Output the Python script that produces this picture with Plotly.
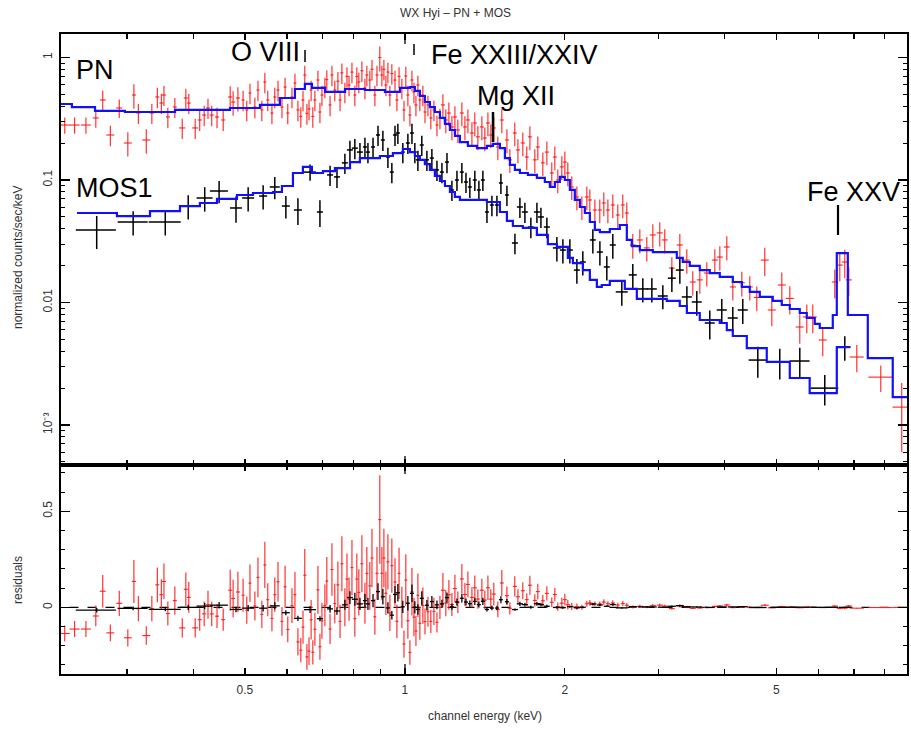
import numpy as np
import plotly.graph_objects as go

# ---------------- data ----------------
pn_energy = [
    0.229, 0.239, 0.251, 0.262, 0.270, 0.279, 0.290, 0.301, 0.309, 0.315,
    0.326, 0.334, 0.342, 0.348, 0.352, 0.358, 0.369, 0.381, 0.387, 0.392,
    0.403, 0.411, 0.419, 0.426, 0.433, 0.443, 0.455, 0.469, 0.475, 0.485,
    0.496, 0.504, 0.511, 0.522, 0.529, 0.538, 0.545, 0.552, 0.562, 0.569,
    0.577, 0.587, 0.595, 0.602, 0.613, 0.621, 0.629, 0.637, 0.643, 0.648,
    0.654, 0.660, 0.666, 0.671, 0.677, 0.686, 0.692, 0.698, 0.707, 0.713,
    0.723, 0.729, 0.738, 0.748, 0.755, 0.761, 0.771, 0.778, 0.785, 0.795,
    0.805, 0.812, 0.819, 0.830, 0.841, 0.848, 0.859, 0.867, 0.878, 0.886,
    0.897, 0.905, 0.913, 0.921, 0.929, 0.937, 0.945, 0.958, 0.966, 0.975,
    0.987, 0.996, 1.004, 1.013, 1.022, 1.031, 1.040, 1.049, 1.058, 1.067,
    1.081, 1.091, 1.105, 1.119, 1.134, 1.149, 1.164,
    1.179, 1.194, 1.210, 1.226, 1.242, 1.258, 1.280, 1.297, 1.314, 1.337,
    1.354, 1.372, 1.396, 1.414, 1.433, 1.451, 1.470, 1.496, 1.522, 1.556,
    1.576, 1.610, 1.632, 1.667, 1.696, 1.719, 1.756, 1.779, 1.818, 1.850,
    1.890, 1.915, 1.940, 1.974, 2.000, 2.026, 2.061, 2.107, 2.153, 2.200,
    2.229, 2.278, 2.327, 2.368, 2.410, 2.462, 2.516, 2.571, 2.616,
    2.685, 2.768, 2.853, 2.928, 3.018, 3.084, 3.180, 3.292, 3.393, 3.482,
    3.590, 3.700, 3.831, 3.915, 4.035, 4.142, 4.306, 4.458, 4.595, 4.757,
    4.904, 5.121, 5.302, 5.536, 5.707, 5.857, 6.116, 6.443, 6.584, 6.728,
    6.846, 7.088, 7.864, 8.612]

pn_halfwidth = [
    0.0050, 0.0052, 0.0054, 0.0034, 0.0035, 0.0048, 0.0038, 0.0052, 0.0027, 0.0027,
    0.0057, 0.0029, 0.0030, 0.0030, 0.0031, 0.0031, 0.0032, 0.0050, 0.0034, 0.0034,
    0.0052, 0.0036, 0.0036, 0.0037, 0.0038, 0.0038, 0.0039, 0.0041, 0.0041, 0.0042,
    0.0032, 0.0033, 0.0033, 0.0034, 0.0034, 0.0035, 0.0035, 0.0036, 0.0037, 0.0037,
    0.0038, 0.0038, 0.0039, 0.0039, 0.0040, 0.0040, 0.0041, 0.0041, 0.0042, 0.0042,
    0.0043, 0.0043, 0.0043, 0.0044, 0.0044, 0.0045, 0.0045, 0.0045, 0.0046, 0.0046,
    0.0047, 0.0047, 0.0048, 0.0049, 0.0049, 0.0049, 0.0050, 0.0051, 0.0051, 0.0052,
    0.0052, 0.0053, 0.0053, 0.0054, 0.0055, 0.0055, 0.0056, 0.0056, 0.0057, 0.0058,
    0.0058, 0.0059, 0.0059, 0.0060, 0.0060, 0.0061, 0.0061, 0.0062, 0.0063, 0.0063,
    0.0064, 0.0065, 0.0065, 0.0066, 0.0066, 0.0067, 0.0068, 0.0068, 0.0069, 0.0069,
    0.0070, 0.0071, 0.0072, 0.0073, 0.0074, 0.0075, 0.0076,
    0.0102, 0.0104, 0.0105, 0.0106, 0.0108, 0.0109, 0.0111, 0.0113, 0.0114, 0.0116,
    0.0118, 0.0119, 0.0121, 0.0123, 0.0124, 0.0126, 0.0128, 0.0130, 0.0132, 0.0135,
    0.0137, 0.0140, 0.0142, 0.0145, 0.0147, 0.0149, 0.0152, 0.0154, 0.0158, 0.0161,
    0.0164, 0.0166, 0.0168, 0.0171, 0.0174, 0.0176, 0.0179, 0.0183, 0.0187, 0.0191,
    0.0193, 0.0198, 0.0202, 0.0206, 0.0209, 0.0214, 0.0218, 0.0223, 0.0227,
    0.035, 0.036, 0.037, 0.038, 0.039, 0.040, 0.041, 0.043, 0.044, 0.045,
    0.047, 0.048, 0.050, 0.051, 0.052, 0.054, 0.056, 0.058, 0.060, 0.083,
    0.085, 0.089, 0.092, 0.096, 0.099, 0.102, 0.106, 0.084, 0.086, 0.088,
    0.089, 0.215, 0.410, 0.337]

pn_rate = [
    0.281, 0.281, 0.281, 0.321, 0.450, 0.233, 0.387, 0.2005, 0.494, 0.352,
    0.212, 0.352, 0.476, 0.425, 0.494, 0.327, 0.394, 0.266, 0.467, 0.425,
    0.266, 0.309, 0.339, 0.387, 0.339, 0.327, 0.309, 0.476, 0.433, 0.467,
    0.450, 0.373, 0.513, 0.394, 0.543, 0.373, 0.631, 0.450, 0.352, 0.476,
    0.543, 0.394, 0.574, 0.352, 0.476, 0.619, 0.373, 0.330, 0.450, 0.720,
    0.350, 0.380, 0.543, 0.330, 0.450, 0.655, 0.359, 0.494, 0.574, 0.660,
    0.410, 0.720, 0.543, 0.640, 0.450, 0.750, 0.523, 0.700, 0.596, 0.760,
    0.494, 0.700, 0.631, 0.780, 0.564, 0.720, 0.655, 0.800, 0.494, 0.720,
    1.000, 0.720, 0.800, 0.596, 0.760, 0.494, 0.740, 0.655, 0.450, 0.700,
    0.564, 0.373, 0.706, 0.494, 0.339, 0.655, 0.523, 0.410, 0.596, 0.450,
    0.494, 0.359, 0.410, 0.321, 0.373, 0.281, 0.321,
    0.410, 0.309, 0.352, 0.271, 0.327, 0.256, 0.352, 0.271, 0.309, 0.242,
    0.292, 0.225, 0.271, 0.220, 0.292, 0.233, 0.266, 0.186, 0.309, 0.212,
    0.146, 0.242, 0.176, 0.2005, 0.154, 0.225, 0.146, 0.186, 0.138, 0.169,
    0.114, 0.154, 0.100, 0.128, 0.140, 0.114, 0.0877, 0.0727, 0.0602, 0.0727,
    0.0687, 0.0569, 0.0569, 0.0649, 0.0569, 0.0625, 0.0518, 0.0625, 0.0538,
    0.0295, 0.0324, 0.0279, 0.0356, 0.0370, 0.0324, 0.0191, 0.0295, 0.0222, 0.0147,
    0.0153, 0.0174, 0.0222, 0.0235, 0.0284, 0.0134, 0.0145, 0.0134, 0.0110, 0.0222,
    0.00869, 0.0139, 0.0108, 0.00631, 0.00762, 0.00762, 0.00494, 0.0147, 0.0202, 0.0214,
    0.0153, 0.00359, 0.00246, 0.00140]

pn_error = [
    0.042, 0.042, 0.042, 0.054, 0.085, 0.044, 0.066, 0.045, 0.112, 0.066,
    0.048, 0.066, 0.090, 0.080, 0.093, 0.062, 0.074, 0.050, 0.088, 0.080,
    0.050, 0.058, 0.064, 0.073, 0.064, 0.062, 0.058, 0.107, 0.098, 0.105,
    0.086, 0.071, 0.097, 0.075, 0.103, 0.071, 0.120, 0.086, 0.067, 0.090,
    0.103, 0.075, 0.109, 0.067, 0.090, 0.118, 0.071, 0.063, 0.086, 0.137,
    0.067, 0.072, 0.103, 0.063, 0.086, 0.124, 0.068, 0.094, 0.109, 0.125,
    0.078, 0.137, 0.103, 0.122, 0.086, 0.143, 0.099, 0.133, 0.113, 0.144,
    0.094, 0.133, 0.120, 0.148, 0.107, 0.137, 0.124, 0.152, 0.094, 0.137,
    0.230, 0.137, 0.152, 0.113, 0.144, 0.094, 0.141, 0.124, 0.086, 0.133,
    0.107, 0.071, 0.134, 0.094, 0.064, 0.124, 0.099, 0.078, 0.113, 0.086,
    0.094, 0.068, 0.078, 0.061, 0.071, 0.053, 0.061,
    0.090, 0.068, 0.077, 0.060, 0.072, 0.056, 0.077, 0.060, 0.068, 0.053,
    0.064, 0.050, 0.060, 0.048, 0.064, 0.051, 0.059, 0.041, 0.068, 0.047,
    0.032, 0.053, 0.039, 0.044, 0.034, 0.050, 0.032, 0.041, 0.030, 0.037,
    0.025, 0.034, 0.022, 0.028, 0.031, 0.025, 0.019, 0.016, 0.013, 0.016,
    0.015, 0.0125, 0.0125, 0.0143, 0.0125, 0.0138, 0.0114, 0.0138, 0.0118,
    0.0067, 0.0073, 0.0063, 0.0080, 0.0083, 0.0073, 0.0043, 0.0067, 0.0050, 0.0033,
    0.0035, 0.0039, 0.0050, 0.0053, 0.0064, 0.0030, 0.0033, 0.0030, 0.0025, 0.0058,
    0.0023, 0.0037, 0.0028, 0.0017, 0.0020, 0.0020, 0.0013, 0.0039, 0.0053, 0.0056,
    0.0040, 0.0009, 0.0006, 0.0008]

mos_energy = [
    0.263, 0.308, 0.354, 0.391, 0.420, 0.447, 0.481, 0.507, 0.541, 0.569,
    0.597, 0.629, 0.663, 0.692, 0.723, 0.745, 0.771, 0.788, 0.805, 0.823,
    0.841, 0.852, 0.871, 0.890, 0.909, 0.929, 0.945, 0.958, 0.970, 0.991,
    1.013, 1.031, 1.044, 1.058, 1.076, 1.100, 1.124, 1.149, 1.174, 1.200,
    1.226, 1.253, 1.280, 1.303, 1.325, 1.354, 1.378, 1.402, 1.427, 1.458,
    1.490, 1.516, 1.556, 1.611, 1.646, 1.682, 1.726, 1.772, 1.803, 1.850,
    1.932, 1.983, 2.044, 2.107, 2.162, 2.258, 2.328, 2.399, 2.462, 2.560,
    2.685, 2.804, 2.916, 3.058, 3.180, 3.292, 3.394, 3.543, 3.748, 3.948,
    4.141, 4.324, 4.615, 5.076, 5.536, 6.169, 6.728]

mos_halfwidth = [
    0.0228, 0.0200, 0.0245, 0.0136, 0.0146, 0.0174, 0.0125, 0.0132, 0.0094, 0.0123,
    0.0103, 0.0109, 0.0172, 0.0090, 0.0094, 0.0097, 0.0100, 0.0102, 0.0105, 0.0107,
    0.0073, 0.0074, 0.0075, 0.0077, 0.0079, 0.0080, 0.0082, 0.0083, 0.0084, 0.0086,
    0.0088, 0.0089, 0.0090, 0.0092, 0.0093, 0.0095, 0.0097, 0.0100, 0.0102, 0.0104,
    0.0106, 0.0109, 0.0111, 0.0113, 0.0115, 0.0117, 0.0119, 0.0121, 0.0124, 0.0126,
    0.0129, 0.0131, 0.0135, 0.0209, 0.0214, 0.0219, 0.0224, 0.0230, 0.0234, 0.0240,
    0.0335, 0.0258, 0.0266, 0.0274, 0.0281, 0.0293, 0.0303, 0.0312, 0.0320, 0.0665,
    0.0465, 0.0607, 0.0632, 0.0662, 0.0551, 0.0570, 0.0735, 0.0767, 0.0812, 0.0855,
    0.0897, 0.0937, 0.180, 0.220, 0.240, 0.374, 0.175]

mos_rate = [
    0.0391, 0.0454, 0.0454, 0.0613, 0.0713, 0.0813, 0.0591, 0.0713, 0.0740, 0.0877,
    0.0613, 0.0569, 0.116, 0.0548, 0.110, 0.106, 0.138, 0.176, 0.182, 0.169,
    0.186, 0.169, 0.186, 0.233, 0.212, 0.154, 0.116, 0.233, 0.242, 0.169,
    0.2005, 0.242, 0.169, 0.146, 0.193, 0.146, 0.151, 0.121, 0.116, 0.140,
    0.0829, 0.100, 0.116, 0.0963, 0.0877, 0.100, 0.0829, 0.100, 0.0548, 0.0625,
    0.0625, 0.0945, 0.0754, 0.0306, 0.0602, 0.0548, 0.0413, 0.0548, 0.0499, 0.0413,
    0.0279, 0.0268, 0.0268, 0.0184, 0.0214, 0.0324, 0.0258, 0.0195, 0.0295, 0.0122,
    0.0168, 0.0129, 0.0129, 0.0113, 0.0158, 0.0184, 0.0111, 0.0101, 0.0068, 0.00869,
    0.00747, 0.00869, 0.00339, 0.00327, 0.00333, 0.00200, 0.00433]

mos_error = [
    0.0118, 0.0102, 0.0102, 0.0138, 0.0161, 0.0168, 0.0144, 0.0161, 0.0167, 0.0182,
    0.0127, 0.0139, 0.0175, 0.0134, 0.0207, 0.0199, 0.0259, 0.0331, 0.0342, 0.0318,
    0.0350, 0.0318, 0.0350, 0.0438, 0.0399, 0.0290, 0.0218, 0.0438, 0.0455, 0.0318,
    0.0377, 0.0455, 0.0318, 0.0274, 0.0363, 0.0274, 0.0284, 0.0227, 0.0218, 0.0263,
    0.0156, 0.0188, 0.0218, 0.0181, 0.0165, 0.0188, 0.0156, 0.0188, 0.0103, 0.0118,
    0.0118, 0.0178, 0.0142, 0.0058, 0.0113, 0.0103, 0.0078, 0.0103, 0.0094, 0.0078,
    0.0063, 0.0060, 0.0060, 0.0042, 0.0048, 0.0073, 0.0058, 0.0044, 0.0067, 0.0028,
    0.0038, 0.0029, 0.0029, 0.0025, 0.0036, 0.0042, 0.0025, 0.0023, 0.0018, 0.0020,
    0.0017, 0.0020, 0.00096, 0.00092, 0.00094, 0.00056, 0.00098]

pn_model_edges = [
    0.2253, 0.2362, 0.2611, 0.2972, 0.3693, 0.4113, 0.4686, 0.5335, 0.5817, 0.6209,
    0.6483, 0.6683, 0.7072, 0.7713, 0.8409, 0.9171, 0.9786, 1.0219, 1.0443, 1.0671,
    1.0904, 1.1144, 1.1387, 1.1639, 1.1894, 1.2154, 1.2420, 1.2691, 1.3137, 1.3665,
    1.4268, 1.4644, 1.5095, 1.5425, 1.5763, 1.6106, 1.6460, 1.7038, 1.7717, 1.8340,
    1.8742, 1.9152, 1.9571, 1.9999, 2.0437, 2.0884, 2.1344, 2.1812, 2.2290, 2.2778,
    2.3277, 2.4305, 2.5379, 2.6163, 2.6735, 2.7676, 2.9287, 3.0846, 3.2488, 3.3343,
    3.4370, 3.5892, 3.7482, 3.9141, 4.1410, 4.3061, 4.4575, 4.6548, 4.9246, 5.1203,
    5.3012, 5.5359, 5.7055, 5.9072, 6.0366, 6.3872, 6.4988, 6.8170, 7.4336, 8.2819,
    8.9536]
pn_model_rate = [
    0.417, 0.394, 0.366, 0.359, 0.373, 0.373, 0.387, 0.410, 0.467, 0.553,
    0.608, 0.564, 0.523, 0.553, 0.543, 0.523, 0.564, 0.574, 0.533, 0.485,
    0.433, 0.394, 0.359, 0.321, 0.287, 0.256, 0.229, 0.204, 0.190, 0.182,
    0.190, 0.197, 0.182, 0.151, 0.133, 0.121, 0.114, 0.110, 0.104, 0.0963,
    0.0877, 0.0963, 0.106, 0.100, 0.0829, 0.0687, 0.0602, 0.0538, 0.0454, 0.0391,
    0.0376, 0.0398, 0.0429, 0.0324, 0.0289, 0.0268, 0.0258, 0.0258, 0.0231, 0.0214,
    0.0199, 0.0184, 0.0174, 0.0162, 0.0147, 0.0134, 0.0122, 0.0111, 0.0103, 0.00954,
    0.00885, 0.00821, 0.00747, 0.00668, 0.00619, 0.00791, 0.0253, 0.00791, 0.00352, 0.00169]

mos_model_edges = [
    0.2415, 0.2871, 0.3313, 0.3773, 0.4113, 0.4429, 0.4830, 0.5176, 0.5645, 0.5869,
    0.6156, 0.6427, 0.6683, 0.7011, 0.7384, 0.7883, 0.8228, 0.8973, 0.9493, 0.9914,
    1.0219, 1.0443, 1.0671, 1.0904, 1.1144, 1.1387, 1.1639, 1.1894, 1.2154, 1.2420,
    1.2691, 1.4268, 1.5095, 1.5559, 1.5967, 1.6673, 1.7717, 1.8578, 1.9320, 2.0264,
    2.0707, 2.1623, 2.2290, 2.2975, 2.3475, 2.4305, 2.5935, 2.7322, 3.1111, 3.2910,
    3.3938, 3.5892, 3.9141, 4.0350, 4.1410, 4.4000, 4.7980, 5.3012, 5.7786, 6.4988,
    6.8756]
mos_model_rate = [
    0.0538, 0.0508, 0.0558, 0.0613, 0.0649, 0.0700, 0.0754, 0.0783, 0.0798, 0.0893,
    0.114, 0.128, 0.114, 0.118, 0.125, 0.140, 0.151, 0.157, 0.166, 0.179,
    0.169, 0.157, 0.146, 0.135, 0.121, 0.108, 0.0981, 0.0893, 0.0798, 0.0727,
    0.0687, 0.0661, 0.0548, 0.0463, 0.0421, 0.0406, 0.0356, 0.0300, 0.0284, 0.0231,
    0.0210, 0.0184, 0.0153, 0.0134, 0.0139, 0.0150, 0.0129, 0.0107, 0.0103, 0.00936,
    0.00821, 0.00720, 0.00680, 0.00596, 0.00533, 0.00425, 0.00327, 0.00242, 0.00182, 0.00433]

x_tick_values = [0.5, 1, 2, 5]
x_tick_labels = ["0.5", "1", "2", "5"]
x_minor_values = [0.3, 0.4, 0.6, 0.7, 0.8, 0.9, 3, 4, 6, 7, 8]
y_tick_values = [0.001, 0.01, 0.1, 1]
y_tick_labels = ["10\u207b\u00b3", "0.01", "0.1", "1"]
res_tick_values = [0, 0.5]
res_tick_labels = ["0", "0.5"]

line_labels = ["O VIII", "Fe XXIII/XXIV", "Mg XII", "Fe XXV"]

# ---------------- geometry ----------------
W, H = 911, 731
ML, MR, MT, MB = 61, 4, 34, 57
PW, PH = W - ML - MR, H - MT - MB
SPLIT = 465
lower_top = (H - MB - SPLIT) / PH


def px(x):
    return (x - ML) / PW


def py(y):
    return (H - MB - y) / PH


def model_at(edges, vals, e):
    e = np.asarray(e)
    idx = np.clip(np.searchsorted(edges, e, side="right") - 1, 0, len(vals) - 1)
    return np.asarray(vals)[idx]


pn_resid = np.asarray(pn_rate) - model_at(pn_model_edges, pn_model_rate, pn_energy)
mos_resid = np.asarray(mos_rate) - model_at(mos_model_edges, mos_model_rate, mos_energy)

RED = "#ff2020"
BLUE = "#1010ff"
FONT = "Liberation Sans, Arial, sans-serif"

fig = go.Figure()


def data_trace(x, y, dx, dy, color, thick, xa, ya):
    return go.Scatter(
        x=x, y=y, mode="markers",
        marker=dict(size=1, color=color),
        error_x=dict(type="data", array=dx, color=color, thickness=thick, width=0),
        error_y=dict(type="data", array=dy, color=color, thickness=thick, width=0),
        xaxis=xa, yaxis=ya, showlegend=False, hoverinfo="skip")


# upper panel
fig.add_trace(data_trace(pn_energy, pn_rate, pn_halfwidth, pn_error, RED, 1.1, "x", "y"))
fig.add_trace(data_trace(mos_energy, mos_rate, mos_halfwidth, mos_error, "black", 1.5, "x", "y"))
for edges, vals in [(pn_model_edges, pn_model_rate), (mos_model_edges, mos_model_rate)]:
    fig.add_trace(go.Scatter(
        x=list(edges), y=list(vals) + [vals[-1]], mode="lines",
        line=dict(color=BLUE, width=2.2, shape="hv"),
        xaxis="x", yaxis="y", showlegend=False, hoverinfo="skip"))

# lower panel
fig.add_trace(go.Scatter(x=[0.2, 10], y=[0, 0], mode="lines",
                         line=dict(color="black", width=1.3, dash="dash"),
                         xaxis="x2", yaxis="y2", showlegend=False, hoverinfo="skip"))
fig.add_trace(data_trace(pn_energy, pn_resid, pn_halfwidth, pn_error, RED, 1.1, "x2", "y2"))
fig.add_trace(data_trace(mos_energy, mos_resid, mos_halfwidth, mos_error, "black", 1.3, "x2", "y2"))

xr = [np.log10(0.2253), np.log10(8.81)]
axis_common = dict(showline=True, linecolor="black", linewidth=1.6, mirror="allticks",
                   ticks="inside", tickcolor="black", tickwidth=1.2, showgrid=False,
                   zeroline=False, automargin=False,
                   tickfont=dict(family=FONT, size=12, color="#333"))

y_minor = [k * 10.0 ** d for d in range(-4, 1) for k in range(2, 10)]

fig.update_layout(
    width=W, height=H,
    margin=dict(l=ML, r=MR, t=MT, b=MB, autoexpand=False),
    paper_bgcolor="white", plot_bgcolor="white",
    xaxis=dict(domain=[0, 1], anchor="y", type="log", range=xr,
               tickmode="array", tickvals=x_tick_values, showticklabels=False, ticklen=6,
               minor=dict(tickmode="array", tickvals=x_minor_values, ticklen=5,
                          ticks="inside", tickcolor="black", tickwidth=1.2),
               **axis_common),
    yaxis=dict(domain=[lower_top, 1], anchor="x", type="log",
               range=[np.log10(4.716e-4), np.log10(1.555)],
               tickmode="array", tickvals=y_tick_values, ticktext=y_tick_labels,
               tickangle=-90, ticklen=9, ticklabelstandoff=3,
               minor=dict(tickmode="array", tickvals=y_minor, ticklen=4,
                          ticks="inside", tickcolor="black", tickwidth=1),
               **axis_common),
    xaxis2=dict(domain=[0, 1], anchor="y2", type="log", range=xr,
                tickmode="array", tickvals=x_tick_values, ticktext=x_tick_labels, ticklen=6,
                ticklabelstandoff=4,
                minor=dict(tickmode="array", tickvals=x_minor_values, ticklen=5,
                           ticks="inside", tickcolor="black", tickwidth=1.2),
                **axis_common),
    yaxis2=dict(domain=[0, lower_top], anchor="x2", range=[-0.347, 0.741],
                tickmode="array", tickvals=res_tick_values, ticktext=res_tick_labels,
                tickangle=-90, ticklen=9, ticklabelstandoff=3,
                minor=dict(tickmode="array",
                           tickvals=[-0.3, -0.2, -0.1, 0.1, 0.2, 0.3, 0.4, 0.6, 0.7],
                           ticklen=4, ticks="inside", tickcolor="black", tickwidth=1),
                **axis_common),
)

ann = []


def text(x, y, s, size, angle=0, color="black"):
    ann.append(dict(x=px(x), y=py(y), xref="paper", yref="paper", text=s,
                    showarrow=False, textangle=angle, xanchor="center", yanchor="middle",
                    font=dict(family=FONT, size=size, color=color)))


text(455, 13, "WX Hyi \u2013 PN + MOS", 12, color="#333")
text(18, 258, "normalized counts/sec/keV", 12, angle=-90, color="#333")
text(18, 580, "residuals", 12, angle=-90, color="#333")
text(485, 716, "channel energy (keV)", 12, color="#333")
text(95, 70, "PN", 27)
text(114, 188, "MOS1", 27)
text(265, 52, line_labels[0], 27)
text(514, 55, line_labels[1], 27)
text(516, 96, line_labels[2], 27)
text(853, 192, line_labels[3], 27)
fig.update_layout(annotations=ann)

shapes = []


def vline(x, y0, y1, w):
    shapes.append(dict(type="line", xref="paper", yref="paper",
                       x0=px(x), x1=px(x), y0=py(y0), y1=py(y1),
                       line=dict(color="black", width=w)))


vline(305, 50, 62, 1.5)
vline(414, 44, 55, 1.5)
vline(493, 112, 142, 2.5)
vline(838, 205, 235, 2.2)
# longer 1 keV ticks
vline(405, MT, MT + 10, 1.3)
vline(405, SPLIT - 9, SPLIT + 9, 1.3)
vline(405, H - MB - 10, H - MB, 1.3)
fig.update_layout(shapes=shapes)

fig.write_html("out.html",
               config={"displayModeBar": False, "staticPlot": True},
               post_script="document.body.style.margin='0';document.body.style.overflow='hidden';")
